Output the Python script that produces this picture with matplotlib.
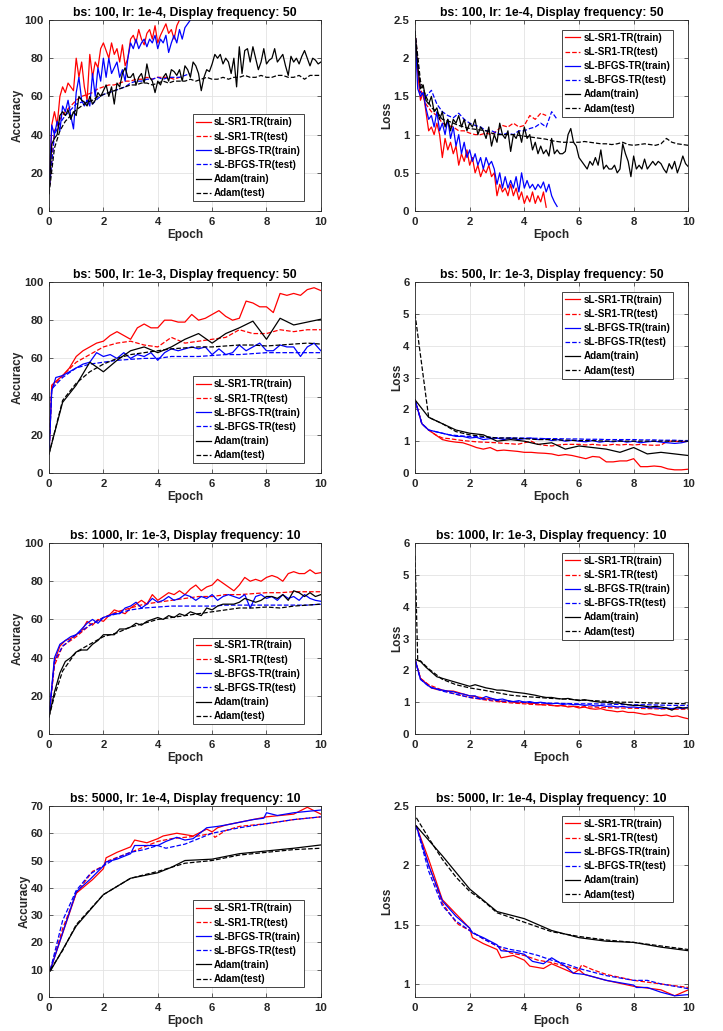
import numpy as np
import matplotlib
matplotlib.use("Agg")
import matplotlib.pyplot as plt
from matplotlib.ticker import FormatStrFormatter

plt.rcParams['font.family'] = ['Liberation Sans', 'DejaVu Sans']
plt.rcParams['font.weight'] = 'bold'

labels = ['sL-SR1-TR(train)', 'sL-SR1-TR(test)', 'sL-BFGS-TR(train)',
          'sL-BFGS-TR(test)', 'Adam(train)', 'Adam(test)']
titles = ['bs: 100, lr: 1e-4, Display frequency: 50',
          'bs: 500, lr: 1e-3, Display frequency: 50',
          'bs: 1000, lr: 1e-3, Display frequency: 10',
          'bs: 5000, lr: 1e-4, Display frequency: 10']

# ---------------- bs 100 (step 0.1 for train, 0.2 for test) ----------------
acc1_sr1_tr = [10, 45, 52, 45, 60, 65, 62, 67, 65, 63, 80, 70, 78, 65, 58, 82, 70, 78, 75, 85,
               88, 84, 80, 88, 82, 85, 78, 87, 76, 80, 90, 92, 88, 95, 90, 87, 93, 95, 90, 97,
               88, 92, 95, 98, 93, 95, 90, 97, 100]
acc1_sr1_te = [10, 42, 48, 52, 55, 58, 60, 61, 62, 64, 65, 66, 66, 67, 68, 68, 69, 69, 70, 69,
               70, 70, 70, 69, 70]
acc1_bfgs_tr = [10, 45, 40, 47, 42, 55, 52, 58, 50, 43, 62, 70, 58, 55, 58, 55, 72, 60, 75, 68,
                80, 70, 80, 72, 75, 78, 70, 74, 68, 80, 88, 85, 90, 85, 88, 90, 86, 90, 88, 92,
                85, 90, 88, 92, 83, 88, 92, 88, 95, 90, 96, 98, 100]
acc1_bfgs_te = [10, 40, 46, 50, 53, 56, 57, 58, 56, 59, 61, 62, 63, 64, 65, 67, 68, 68, 69, 69,
                70, 69, 70, 70, 70, 71, 72]
acc1_adam_tr = [9, 35, 38, 40, 50, 52, 50, 53, 48, 52, 50, 60, 58, 57, 55, 60, 56, 58, 62, 60,
                63, 66, 60, 65, 56, 67, 65, 72, 75, 70, 70, 72, 66, 70, 72, 67, 77, 70, 68, 62,
                68, 66, 70, 72, 68, 74, 73, 71, 74, 68, 76, 74, 70, 78, 76, 72, 63, 70, 74, 73,
                77, 82, 80, 82, 77, 80, 78, 72, 80, 65, 86, 72, 84, 85, 78, 86, 80, 74, 78, 85,
                77, 79, 80, 85, 78, 80, 82, 76, 71, 81, 78, 80, 77, 81, 84, 80, 76, 80, 79, 77, 78]
acc1_adam_te = [9, 33, 42, 47, 50, 53, 55, 57, 58, 60, 61, 62, 63, 64, 65, 66, 66, 67, 67, 66,
                67, 68, 67, 68, 68, 68, 69, 68, 69, 70, 69, 69, 70, 69, 70, 70, 71, 70, 70, 71,
                70, 70, 71, 71, 70, 70, 71, 69, 71, 71, 71]

loss1_sr1_tr = [2.35, 1.8, 1.45, 1.55, 1.3, 1.05, 1.1, 1.0, 1.15, 1.0,
                0.7, 0.95, 0.8, 0.9, 0.75, 0.85, 0.6, 0.75, 0.65, 0.8,
                0.6, 0.7, 0.5, 0.6, 0.45, 0.55, 0.5, 0.6, 0.45, 0.5,
                0.2, 0.35, 0.25, 0.3, 0.2, 0.35, 0.2, 0.3, 0.15, 0.25,
                0.1, 0.2, 0.12, 0.25, 0.1, 0.2, 0.12, 0.25, 0.05]
loss1_sr1_te = [2.35, 1.6, 1.4, 1.3, 1.25, 1.15, 1.12, 1.1, 1.05, 1.05, 1.02, 1.0, 1.0, 1.02,
                1.0, 1.05, 1.12, 1.1, 1.15, 1.1, 1.12, 1.25, 1.2, 1.28, 1.25]
loss1_bfgs_tr = [2.35, 1.6, 1.5, 1.55, 1.35, 1.2, 1.25, 1.1, 1.3, 1.05,
                 1.15, 1.0, 1.2, 0.95, 1.1, 0.85, 1.0, 0.75, 0.9, 0.7,
                 0.8, 0.65, 0.75, 0.6, 0.7, 0.55, 0.7, 0.6, 0.65, 0.55,
                 0.35, 0.5, 0.3, 0.45, 0.3, 0.4, 0.3, 0.45, 0.25, 0.5,
                 0.3, 0.4, 0.3, 0.35, 0.28, 0.35, 0.3, 0.38, 0.25, 0.35,
                 0.2, 0.12, 0.06]
loss1_bfgs_te = [2.35, 1.55, 1.5, 1.58, 1.4, 1.3, 1.25, 1.22, 1.28, 1.2, 1.15, 1.12, 1.1, 1.05,
                 1.05, 1.02, 1.0, 1.02, 1.0, 1.05, 1.05, 1.08, 1.1, 1.15, 1.1, 1.3, 1.2]
loss1_adam_tr = [2.35, 1.9, 1.6, 1.65, 1.45, 1.4, 1.5, 1.3, 1.35, 1.2,
                 1.3, 1.1, 1.2, 1.05, 1.2, 1.15, 1.25, 1.1, 1.2, 1.05,
                 1.15, 1.1, 1.2, 1.0, 1.1, 1.05, 0.95, 1.1, 0.85, 1.0,
                 0.9, 1.15, 1.0, 0.95, 1.05, 0.78, 1.0, 0.95, 1.05, 0.9,
                 1.1, 0.95, 1.0, 0.8, 0.9, 0.75, 0.85, 0.75, 0.8, 0.72,
                 0.95, 0.75, 0.8, 0.75, 0.75, 0.78, 1.0, 1.08, 0.9, 0.85,
                 0.7, 0.65, 0.6, 0.55, 0.65, 0.6, 0.7, 0.6, 0.8, 0.55,
                 0.6, 0.55, 0.55, 0.6, 0.5, 0.55, 0.88, 0.75, 0.65, 0.45,
                 0.72, 0.55, 0.6, 0.55, 0.68, 0.55, 0.6, 0.65, 0.6, 0.65,
                 0.62, 0.55, 0.5, 0.62, 0.55, 0.65, 0.5, 0.6, 0.72, 0.62, 0.58]
loss1_adam_te = [2.35, 1.7, 1.5, 1.35, 1.3, 1.2, 1.18, 1.15, 1.12, 1.1,
                 1.08, 1.07, 1.06, 1.05, 1.02, 1.0, 1.0, 1.0, 1.0, 0.99,
                 0.98, 0.97, 0.96, 0.95, 0.94, 0.92, 0.91, 0.9, 0.9, 0.9,
                 0.9, 0.91, 0.9, 0.89, 0.88, 0.88, 0.87, 0.88, 0.9, 0.87,
                 0.86, 0.87, 0.88, 0.87, 0.86, 0.88, 0.95, 0.9, 0.88, 0.87, 0.86]

# ---------------- bs 500 ----------------
ep2_fast = [0, 0.1] + [0.25 * k for k in range(1, 41)]
ep2_test = [0, 0.1] + [0.5 * k for k in range(1, 21)]
ep2_half = [0.5 * k for k in range(21)]
ep2_q = [0.25 * k for k in range(41)]
acc2_sr1_tr = [10, 46, 48, 51, 55, 61, 64, 66, 68, 69, 72, 74, 72, 70, 76, 78, 76, 76, 80, 80,
               79, 79, 83, 80, 81, 83, 85, 82, 80, 81, 90, 89, 87, 87, 84, 94, 93, 94, 93, 96,
               97, 95.5]
acc2_sr1_te = [10, 45, 51, 58, 62, 66, 68, 69, 67, 66, 71, 68, 69, 70, 71, 75, 73, 73, 75, 74,
               75, 75]
acc2_bfgs_tr = [10, 43, 50, 51, 53, 55, 57, 58, 63, 61, 62, 60, 63, 60, 62, 61, 63, 59, 63, 65,
                64, 65, 66, 65, 66, 62, 65, 62, 63, 67, 64, 66, 68, 64, 64, 67, 66, 66, 61, 66,
                68, 64]
acc2_bfgs_te = [10, 44, 50, 55, 57, 58, 59, 59.5, 60, 60, 61, 61, 61, 61.5, 62, 62, 62.5, 63,
                63, 63, 63, 63]
acc2_adam_tr = [10, 37, 46, 58, 53, 59, 64, 66, 63, 66, 70, 73, 68, 73, 76, 79.5, 70, 81, 77.5,
                79, 80.5]
acc2_adam_te = [10, 38, 47, 53, 57, 60, 62, 63, 64, 65, 65.5, 66, 66, 66.5, 67, 67, 66.5, 67,
                67.5, 68, 67.5]

loss2_sr1_tr = [2.3, 1.55, 1.35, 1.2, 1.05, 1.0, 0.97, 0.95, 0.88, 0.8, 0.75, 0.8, 0.7, 0.72,
                0.7, 0.68, 0.65, 0.65, 0.63, 0.62, 0.6, 0.55, 0.58, 0.55, 0.5, 0.45, 0.52, 0.5,
                0.35, 0.35, 0.38, 0.38, 0.45, 0.2, 0.2, 0.22, 0.2, 0.13, 0.1, 0.1, 0.12]
loss2_sr1_te = [2.3, 1.55, 1.35, 1.2, 1.1, 1.08, 1.05, 1.02, 1.0, 0.98, 0.97, 0.96, 0.95, 0.93,
                0.92, 0.9, 0.95, 1.0, 0.9, 0.87, 0.85, 0.88, 0.9, 0.9, 0.9, 0.88, 0.9, 0.88,
                0.87, 0.9, 0.88, 0.9, 0.88, 0.9, 0.88, 0.87, 0.88, 1.0, 1.0, 0.98, 1.0]
loss2_bfgs_tr = [2.3, 1.55, 1.35, 1.3, 1.25, 1.2, 1.15, 1.15, 1.1, 1.12, 1.05, 1.08, 1.1, 1.05,
                 1.1, 1.05, 1.08, 1.1, 1.05, 1.08, 1.02, 1.05, 1.0, 1.03, 1.0, 0.98, 1.02, 0.97,
                 1.0, 0.98, 1.02, 0.97, 1.0, 0.95, 0.98, 1.0, 0.97, 0.95, 0.93, 0.95, 1.0]
loss2_bfgs_te = [2.3, 1.55, 1.35, 1.3, 1.25, 1.2, 1.18, 1.16, 1.15, 1.14, 1.12, 1.12, 1.1, 1.1,
                 1.1, 1.1, 1.1, 1.09, 1.09, 1.08, 1.08, 1.08, 1.07, 1.07, 1.07, 1.06, 1.06,
                 1.06, 1.05, 1.05, 1.05, 1.05, 1.05, 1.04, 1.04, 1.04, 1.03, 1.03, 1.03, 1.02,
                 1.02]
loss2_adam_tr = [2.3, 1.75, 1.55, 1.35, 1.25, 1.2, 1.0, 1.05, 1.0, 0.9, 0.95, 0.75, 0.85, 0.8,
                 0.75, 0.65, 0.8, 0.6, 0.65, 0.6, 0.55]
loss2_adam_te = [5.0, 1.75, 1.55, 1.3, 1.2, 1.15, 1.1, 1.1, 1.08, 1.05, 1.05, 1.03, 1.02, 1.02,
                 1.0, 1.0, 1.0, 1.0, 1.0, 1.0, 1.0]

# ---------------- bs 1000 (step 0.2 for train) ----------------
ep3_test = [0, 0.2] + [0.5 * k for k in range(1, 21)]
ep3_adam_te_loss = [0, 0.05, 0.1, 0.2] + [0.5 * k for k in range(1, 21)]
acc3_sr1_tr = [9, 38, 46, 49, 50, 52, 54, 59, 57, 60, 59, 62, 65, 64, 63, 66, 68, 70, 68, 73,
               70, 72, 74, 73, 75, 73, 76, 78, 75, 77, 78, 81, 79, 77, 75, 78, 82, 80, 81, 80,
               82, 83, 82, 80, 84, 85, 84, 84, 86, 84, 84.5]
acc3_sr1_te = [9, 36, 46, 51, 57, 61, 64, 66, 68, 69, 70, 71, 72, 72, 73, 73, 73.5, 74, 74,
               74.5, 74.5, 74.5]
acc3_bfgs_tr = [9, 40, 47, 49, 51, 52, 55, 58, 60, 58, 61, 62, 63, 63, 66, 67, 69, 66, 68, 71,
                69, 70, 72, 70, 71, 73, 72, 70, 72, 71, 73, 70, 72, 73, 72, 71, 73, 66, 72, 73,
                71, 72, 70, 73, 71, 72, 70, 73, 71, 70, 69.5]
acc3_bfgs_te = [9, 38, 46, 52, 57, 61, 63, 65, 66, 66.5, 67, 67, 67, 67, 67.5, 67.5, 67.5, 67.5,
                67.5, 67.5, 67.5, 68]
acc3_adam_tr = [9, 22, 32, 38, 40, 43, 44, 44, 47, 49, 52, 52, 52, 55, 55, 56, 58, 57, 59, 60,
                61, 60, 62, 61, 63, 62, 64, 63, 62, 66, 65, 67, 68, 68, 68, 69, 71, 70, 69, 70,
                72, 72, 71, 73, 70, 75, 74, 72, 74, 72, 73]
acc3_adam_te = [9, 20, 33, 43, 47, 51, 53, 56, 58, 60, 61, 62, 63, 64, 65, 66, 66, 66.5, 66, 67,
                67.5, 68]

loss3_sr1_tr = [2.35, 1.75, 1.6, 1.45, 1.4, 1.38, 1.35, 1.35, 1.3, 1.25,
                1.2, 1.18, 1.15, 1.1, 1.12, 1.05, 1.02, 1.05, 1.0, 0.98,
                1.0, 0.95, 0.97, 0.92, 0.95, 0.9, 0.88, 0.9, 0.85, 0.87,
                0.82, 0.85, 0.8, 0.78, 0.8, 0.75, 0.73, 0.7, 0.72, 0.68,
                0.68, 0.65, 0.62, 0.64, 0.6, 0.58, 0.6, 0.55, 0.57, 0.52, 0.48]
loss3_sr1_te = [2.35, 1.75, 1.55, 1.38, 1.25, 1.15, 1.08, 1.02, 0.98, 0.95, 0.92, 0.9, 0.88,
                0.86, 0.85, 0.83, 0.82, 0.81, 0.8, 0.79, 0.78, 0.78]
loss3_bfgs_tr = [2.35, 1.72, 1.58, 1.45, 1.42, 1.38, 1.35, 1.33, 1.28, 1.25,
                 1.2, 1.2, 1.1, 1.18, 1.12, 1.08, 1.1, 1.05, 1.02, 1.05,
                 1.0, 1.02, 0.98, 1.0, 0.97, 0.95, 0.97, 0.93, 0.95, 0.92,
                 0.93, 0.9, 0.92, 0.88, 0.9, 0.87, 0.88, 0.85, 0.87, 0.84,
                 0.85, 0.83, 0.85, 0.82, 0.83, 0.8, 0.82, 0.8, 0.82, 0.8, 0.85]
loss3_bfgs_te = [2.35, 1.72, 1.5, 1.35, 1.25, 1.15, 1.1, 1.05, 1.02, 1.0, 0.98, 0.97, 0.96,
                 0.95, 0.95, 0.94, 0.93, 0.92, 0.92, 0.91, 0.9, 0.9]
loss3_adam_tr = [2.35, 2.28, 2.1, 1.95, 1.8, 1.75, 1.7, 1.65, 1.6, 1.55,
                 1.5, 1.55, 1.5, 1.45, 1.42, 1.38, 1.38, 1.35, 1.32, 1.3,
                 1.28, 1.25, 1.22, 1.18, 1.15, 1.15, 1.12, 1.1, 1.12, 1.08,
                 1.05, 1.08, 1.05, 1.02, 1.0, 1.0, 0.97, 0.98, 0.95, 0.92,
                 0.9, 0.9, 0.88, 0.85, 0.87, 0.85, 0.82, 0.75, 0.85, 0.82, 0.82]
loss3_adam_te = [5.6, 4.0, 2.3, 2.3, 2.05, 1.72, 1.55, 1.45, 1.38, 1.3, 1.22, 1.18, 1.15, 1.12,
                 1.1, 1.07, 1.05, 1.03, 1.0, 1.0, 0.98, 0.97, 0.96, 0.95]

# ---------------- bs 5000 ----------------
ep4_sr1_tr = [0.05, 1.0, 1.6, 2.0, 2.1, 2.5, 3.0, 3.15, 3.6, 4.0, 4.2, 4.7, 5.0, 5.3, 5.8, 6.0,
              6.2, 6.5, 7.0, 7.5, 8.0, 8.5, 9.0, 9.5, 10]
acc4_sr1_tr = [10, 38, 43, 47, 51, 53, 55, 57.5, 56.5, 58, 59, 60, 59.5, 59, 61.5, 60.5, 62, 63,
               64, 65, 66, 66.5, 67, 69.5, 67]
ep4_sr1_te = [0.05, 0.5, 1.0, 1.6, 2.0, 2.2, 3.0, 3.5, 4.0, 4.5, 5.0, 5.5, 6.0, 6.1, 6.5, 7.0,
              8.0, 9.0, 10]
acc4_sr1_te = [10, 25, 38, 46, 48, 50, 53, 55, 57, 58, 58.5, 59, 60, 58.5, 61, 62.5, 63.5, 65, 66]
ep4_bfgs_tr = [0.05, 1.0, 1.5, 2.0, 2.1, 2.5, 3.0, 3.15, 3.7, 4.0, 4.3, 4.7, 5.0, 5.3, 5.8, 6.2,
               6.5, 7.0, 7.5, 7.9, 8.0, 8.4, 9.0, 9.5, 10]
acc4_bfgs_tr = [10, 38.5, 43, 48, 49.5, 50.5, 52.5, 55.5, 55.5, 55.5, 57, 58.5, 57.5, 58, 62,
                62.5, 63, 64, 65, 65.5, 67.5, 66.5, 67.5, 68, 68.5]
ep4_bfgs_te = [0.05, 0.5, 1.0, 1.5, 2.0, 2.5, 3.0, 3.5, 4.0, 4.3, 5.0, 5.5, 6.0, 6.5, 7.0, 8.0,
               9.0, 10]
acc4_bfgs_te = [10, 28, 39, 45, 48, 51, 53, 54, 55.5, 54.5, 56, 58, 60, 61, 62, 63.5, 65, 66]
ep4_adam_tr = [0.05, 1.0, 2.0, 3.0, 3.5, 4.0, 4.5, 5.0, 6.0, 7.0, 8.0, 9.0, 10]
acc4_adam_tr = [9.5, 26, 37.5, 43.5, 44.5, 45.5, 47.5, 50, 50.5, 52.5, 53.5, 54.5, 55.7]
ep4_adam_te = [0.05, 0.5, 1.0, 2.0, 3.0, 4.0, 5.0, 6.0, 7.0, 8.0, 9.0, 10]
acc4_adam_te = [10, 17, 26.5, 37.5, 43.5, 46, 49, 50, 52, 53, 54, 54.5]

ep4l_sr1_tr = [0.05, 0.5, 1.0, 1.5, 2.0, 2.1, 2.5, 3.0, 3.15, 3.6, 4.0, 4.2, 4.7, 5.0, 5.5, 5.8,
               6.0, 6.2, 7.0, 8.0, 9.0, 9.5, 10]
loss4_sr1_tr = [2.33, 2.05, 1.71, 1.59, 1.47, 1.39, 1.34, 1.29, 1.22, 1.24, 1.2, 1.15, 1.13,
                1.17, 1.12, 1.09, 1.12, 1.08, 1.03, 0.98, 0.95, 0.9, 0.95]
ep4l_sr1_te = [0.05, 0.5, 1.0, 1.5, 1.6, 2.0, 2.5, 3.0, 3.5, 4.0, 4.5, 5.0, 5.5, 6.0, 6.1, 6.5,
               7, 8, 9, 10]
loss4_sr1_te = [2.33, 2.0, 1.68, 1.52, 1.5, 1.45, 1.38, 1.32, 1.26, 1.24, 1.2, 1.18, 1.15, 1.12,
                1.16, 1.12, 1.08, 1.03, 1.0, 0.97]
ep4l_bfgs_tr = [0.05, 0.5, 1.0, 1.5, 2.0, 2.1, 2.5, 3.0, 3.15, 3.6, 4.0, 4.3, 4.7, 5.0, 5.5, 5.8,
                6.2, 7, 8, 8.1, 8.5, 9, 9.5, 10]
loss4_bfgs_tr = [2.33, 2.0, 1.7, 1.57, 1.47, 1.43, 1.39, 1.33, 1.28, 1.27, 1.25, 1.19, 1.17,
                 1.22, 1.15, 1.09, 1.08, 1.03, 0.99, 0.97, 0.97, 0.93, 0.9, 0.91]
ep4l_bfgs_te = [0.05, 0.5, 1.0, 1.5, 2.0, 2.5, 3.0, 3.5, 4.0, 4.5, 5, 5.5, 6, 6.5, 7, 8, 8.5, 9,
                10]
loss4_bfgs_te = [2.33, 1.95, 1.66, 1.53, 1.45, 1.38, 1.32, 1.29, 1.27, 1.24, 1.2, 1.17, 1.13,
                 1.1, 1.07, 1.03, 1.03, 1.0, 0.96]
ep4l_adam_tr = [0.05, 1, 2, 3, 4, 5, 6, 7, 8, 9, 10]
loss4_adam_tr = [2.33, 2.08, 1.8, 1.61, 1.55, 1.45, 1.39, 1.36, 1.35, 1.31, 1.28]
ep4l_adam_te = [0.05, 0.5, 1.0, 1.5, 2.0, 2.5, 3.0, 3.5, 4, 4.5, 5, 6, 7, 8, 9, 10]
loss4_adam_te = [2.4, 2.23, 2.05, 1.9, 1.78, 1.7, 1.6, 1.56, 1.52, 1.48, 1.44, 1.4, 1.37, 1.35,
                 1.32, 1.29]


def steps(vals, dx):
    return np.arange(len(vals)) * dx


styles = [('red', '-'), ('red', '--'), ('blue', '-'), ('blue', '--'), ('black', '-'), ('black', '--')]

plt.rcParams.update({'legend.fontsize': 7.1, 'legend.fancybox': False,
                     'legend.framealpha': 1, 'legend.borderaxespad': 0,
                     'legend.handlelength': 1.5, 'legend.handletextpad': 0.35,
                     'legend.labelspacing': 0.42, 'legend.borderpad': 0.3})

fig = plt.figure(figsize=(7.23, 10.31), dpi=100)
row_bottoms = [0.7953, 0.5412, 0.2880, 0.0330]
col_lefts = [0.0678, 0.574]
col_widths = [0.376, 0.378]
ax_h = 0.1853


def draw_panel(ax, series, ylabel, ylim, yticks, title, left):
    for (x, y), (c, ls), lab in zip(series, styles, labels):
        ax.plot(x, y, color=c, ls=ls, lw=0.9, label=lab)
    ax.set_xlim(0, 10)
    ax.set_ylim(*ylim)
    ax.set_xticks([0, 2, 4, 6, 8, 10])
    ax.set_yticks(yticks)
    ax.yaxis.set_major_formatter(FormatStrFormatter('%g'))
    ax.grid(True, color='#e3e3e3', lw=0.6)
    ax.set_axisbelow(True)
    ax.tick_params(direction='in', length=3, width=0.5, top=True, right=True,
                   labelsize=8.2, colors='#262626', pad=4)
    for lab in ax.get_xticklabels() + ax.get_yticklabels():
        lab.set_fontweight('bold')
    for s in ax.spines.values():
        s.set_color('#262626')
        s.set_linewidth(0.6)
    ax.set_xlabel('Epoch', fontsize=8.5, fontweight='bold', color='#262626', labelpad=2)
    ax.set_ylabel(ylabel, fontsize=8.5, fontweight='bold', color='#262626', labelpad=0)
    ax.set_title(title, fontsize=8.8, fontweight='bold', pad=3)
    if left:
        leg = ax.legend(loc='lower right', bbox_to_anchor=(0.9375, 0.052))
    else:
        leg = ax.legend(loc='upper right', bbox_to_anchor=(0.945, 0.948))
    leg.get_frame().set_edgecolor('#262626')
    leg.get_frame().set_linewidth(0.6)


acc_series = [
    [(steps(acc1_sr1_tr, 0.1), acc1_sr1_tr), (steps(acc1_sr1_te, 0.2), acc1_sr1_te),
     (steps(acc1_bfgs_tr, 0.1), acc1_bfgs_tr), (steps(acc1_bfgs_te, 0.2), acc1_bfgs_te),
     (steps(acc1_adam_tr, 0.1), acc1_adam_tr), (steps(acc1_adam_te, 0.2), acc1_adam_te)],
    [(ep2_fast, acc2_sr1_tr), (ep2_test, acc2_sr1_te), (ep2_fast, acc2_bfgs_tr),
     (ep2_test, acc2_bfgs_te), (ep2_half, acc2_adam_tr), (ep2_half, acc2_adam_te)],
    [(steps(acc3_sr1_tr, 0.2), acc3_sr1_tr), (ep3_test, acc3_sr1_te),
     (steps(acc3_bfgs_tr, 0.2), acc3_bfgs_tr), (ep3_test, acc3_bfgs_te),
     (steps(acc3_adam_tr, 0.2), acc3_adam_tr), (ep3_test, acc3_adam_te)],
    [(ep4_sr1_tr, acc4_sr1_tr), (ep4_sr1_te, acc4_sr1_te), (ep4_bfgs_tr, acc4_bfgs_tr),
     (ep4_bfgs_te, acc4_bfgs_te), (ep4_adam_tr, acc4_adam_tr), (ep4_adam_te, acc4_adam_te)],
]
loss_series = [
    [(steps(loss1_sr1_tr, 0.1), loss1_sr1_tr), (steps(loss1_sr1_te, 0.2), loss1_sr1_te),
     (steps(loss1_bfgs_tr, 0.1), loss1_bfgs_tr), (steps(loss1_bfgs_te, 0.2), loss1_bfgs_te),
     (steps(loss1_adam_tr, 0.1), loss1_adam_tr), (steps(loss1_adam_te, 0.2), loss1_adam_te)],
    [(ep2_q, loss2_sr1_tr), (ep2_q, loss2_sr1_te), (ep2_q, loss2_bfgs_tr),
     (ep2_q, loss2_bfgs_te), (ep2_half, loss2_adam_tr), (ep2_half, loss2_adam_te)],
    [(steps(loss3_sr1_tr, 0.2), loss3_sr1_tr), (ep3_test, loss3_sr1_te),
     (steps(loss3_bfgs_tr, 0.2), loss3_bfgs_tr), (ep3_test, loss3_bfgs_te),
     (steps(loss3_adam_tr, 0.2), loss3_adam_tr), (ep3_adam_te_loss, loss3_adam_te)],
    [(ep4l_sr1_tr, loss4_sr1_tr), (ep4l_sr1_te, loss4_sr1_te), (ep4l_bfgs_tr, loss4_bfgs_tr),
     (ep4l_bfgs_te, loss4_bfgs_te), (ep4l_adam_tr, loss4_adam_tr), (ep4l_adam_te, loss4_adam_te)],
]

acc_lims = [(0, 100), (0, 100), (0, 100), (0, 70)]
acc_ticks = [range(0, 101, 20)] * 3 + [range(0, 71, 10)]
loss_lims = [(0, 2.5), (0, 6), (0, 6), (0.89, 2.5)]
loss_ticks = [[0, 0.5, 1, 1.5, 2, 2.5], range(0, 7), range(0, 7), [1, 1.5, 2, 2.5]]

for r in range(4):
    axl = fig.add_axes([col_lefts[0], row_bottoms[r], col_widths[0], ax_h])
    draw_panel(axl, acc_series[r], 'Accuracy', acc_lims[r], acc_ticks[r], titles[r], True)
    axr = fig.add_axes([col_lefts[1], row_bottoms[r], col_widths[1], ax_h])
    draw_panel(axr, loss_series[r], 'Loss', loss_lims[r], loss_ticks[r], titles[r], False)

fig.savefig('out.png', dpi=100)
